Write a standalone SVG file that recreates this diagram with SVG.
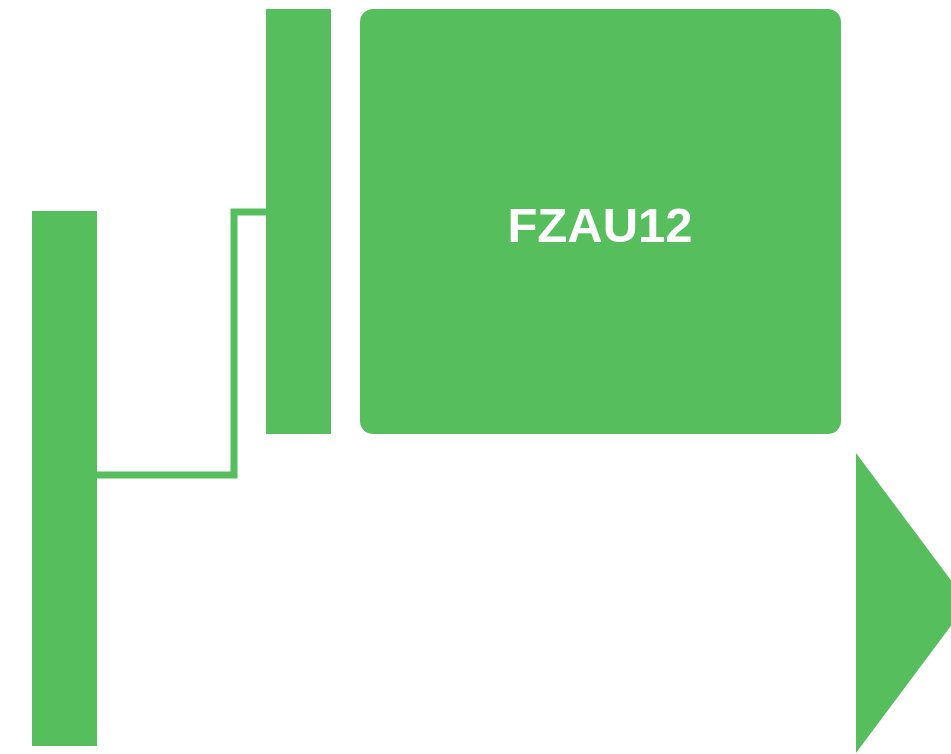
<svg xmlns="http://www.w3.org/2000/svg" width="951" height="754" viewBox="0 0 951 754">
<style>
.n{fill:#57be5e}
.c{fill:none;stroke:#57be5e;stroke-width:7}
.t{fill:#fff;font-family:"Liberation Sans",Arial,sans-serif;font-weight:bold;font-size:49px;text-anchor:middle}
</style>
<rect width="951" height="754" fill="#fff"/>
<g id="connectors">
<polyline class="c" points="97,475 234,475 234,212 266,212"/>
</g>
<g id="left-bar"><rect class="n" x="32" y="211" width="65" height="535"/></g>
<g id="mid-bar"><rect class="n" x="266" y="9" width="65" height="425"/></g>
<g id="FZAU12"><rect class="n" x="360" y="9" width="481" height="425" rx="13"/><text class="t" x="600" y="242">FZAU12</text></g>
<g id="arrow"><polygon class="n" points="856,453 968,603 856,753"/></g>
</svg>
